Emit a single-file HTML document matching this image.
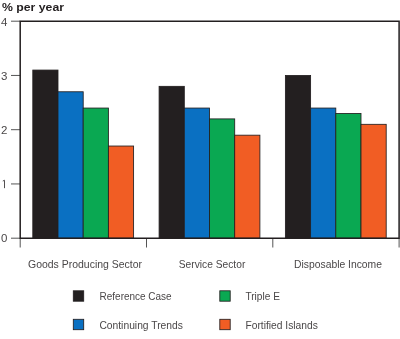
<!DOCTYPE html>
<html><head><meta charset="utf-8"><style>
html,body{margin:0;padding:0;background:#fff;}
svg{display:block;will-change:transform;}
text{font-family:"Liberation Sans",sans-serif;fill:#231f20;}
.n{font-size:10.5px;fill:#4a4748;}
.t{font-size:10.3px;fill:#4a4748;}
.b{font-size:10.5px;font-weight:bold;}
</style></head><body>
<svg width="400" height="339" viewBox="0 0 400 339">
<rect width="400" height="339" fill="#fff"/>
<text x="2" y="10.9" class="b" textLength="62" lengthAdjust="spacingAndGlyphs">% per year</text>
<line x1="11" y1="238.20" x2="20.2" y2="238.20" stroke="#555" stroke-width="1"/><text x="1.0" y="242.40" class="n" textLength="6.4" lengthAdjust="spacingAndGlyphs">0</text><line x1="11" y1="183.95" x2="20.2" y2="183.95" stroke="#555" stroke-width="1"/><path d="M2.8 181.05 L4.5 180.25 V188.15" fill="none" stroke="#4a4748" stroke-width="0.95"/><line x1="11" y1="129.70" x2="20.2" y2="129.70" stroke="#555" stroke-width="1"/><text x="1.0" y="133.90" class="n" textLength="6.4" lengthAdjust="spacingAndGlyphs">2</text><line x1="11" y1="75.45" x2="20.2" y2="75.45" stroke="#555" stroke-width="1"/><text x="1.0" y="79.65" class="n" textLength="6.4" lengthAdjust="spacingAndGlyphs">3</text><line x1="11" y1="21.20" x2="20.2" y2="21.20" stroke="#555" stroke-width="1"/><text x="1.0" y="25.90" class="n" textLength="6.4" lengthAdjust="spacingAndGlyphs">4</text><line x1="20.20" y1="238.2" x2="20.20" y2="247.5" stroke="#555" stroke-width="1"/><line x1="146.50" y1="238.2" x2="146.50" y2="247.5" stroke="#555" stroke-width="1"/><line x1="272.80" y1="238.2" x2="272.80" y2="247.5" stroke="#555" stroke-width="1"/><line x1="399.10" y1="238.2" x2="399.10" y2="247.5" stroke="#555" stroke-width="1"/>
<rect x="32.80" y="70.07" width="25.2" height="168.12" fill="#231f20" stroke="#231f20" stroke-width="0.85"/><rect x="58.00" y="91.77" width="25.2" height="146.43" fill="#0a70c2" stroke="#231f20" stroke-width="0.85"/><rect x="83.20" y="108.05" width="25.2" height="130.15" fill="#0aa852" stroke="#231f20" stroke-width="0.85"/><rect x="108.40" y="146.03" width="25.2" height="92.17" fill="#f15d24" stroke="#231f20" stroke-width="0.85"/><rect x="159.10" y="86.35" width="25.2" height="151.85" fill="#231f20" stroke="#231f20" stroke-width="0.85"/><rect x="184.30" y="108.05" width="25.2" height="130.15" fill="#0a70c2" stroke="#231f20" stroke-width="0.85"/><rect x="209.50" y="118.90" width="25.2" height="119.30" fill="#0aa852" stroke="#231f20" stroke-width="0.85"/><rect x="234.70" y="135.18" width="25.2" height="103.02" fill="#f15d24" stroke="#231f20" stroke-width="0.85"/><rect x="285.40" y="75.50" width="25.2" height="162.70" fill="#231f20" stroke="#231f20" stroke-width="0.85"/><rect x="310.60" y="108.05" width="25.2" height="130.15" fill="#0a70c2" stroke="#231f20" stroke-width="0.85"/><rect x="335.80" y="113.47" width="25.2" height="124.72" fill="#0aa852" stroke="#231f20" stroke-width="0.85"/><rect x="361.00" y="124.32" width="25.2" height="113.88" fill="#f15d24" stroke="#231f20" stroke-width="0.85"/>
<path d="M20.2 238.2 V21.2 H399.1 V238.2 Z" fill="none" stroke="#231f20" stroke-width="1.5"/>
<text x="28" y="268.2" class="t" textLength="114" lengthAdjust="spacingAndGlyphs">Goods Producing Sector</text>
<text x="178.8" y="268.2" class="t" textLength="66.5" lengthAdjust="spacingAndGlyphs">Service Sector</text>
<text x="294" y="268.2" class="t" textLength="88" lengthAdjust="spacingAndGlyphs">Disposable Income</text>
<rect x="73.3" y="290.8" width="10.4" height="10.4" fill="#231f20" stroke="#231f20" stroke-width="0.85"/>
<rect x="73.3" y="319.3" width="10.4" height="10.4" fill="#0a70c2" stroke="#231f20" stroke-width="0.85"/>
<rect x="219.8" y="290.8" width="10.4" height="10.4" fill="#0aa852" stroke="#231f20" stroke-width="0.85"/>
<rect x="219.8" y="319.3" width="10.4" height="10.4" fill="#f15d24" stroke="#231f20" stroke-width="0.85"/>
<text x="99.6" y="299.8" class="t" textLength="72" lengthAdjust="spacingAndGlyphs">Reference Case</text>
<text x="99.4" y="328.6" class="t" textLength="83.5" lengthAdjust="spacingAndGlyphs">Continuing Trends</text>
<text x="245.4" y="299.8" class="t" textLength="34.5" lengthAdjust="spacingAndGlyphs">Triple E</text>
<text x="245.4" y="328.6" class="t" textLength="72.5" lengthAdjust="spacingAndGlyphs">Fortified Islands</text>
</svg>
</body></html>
